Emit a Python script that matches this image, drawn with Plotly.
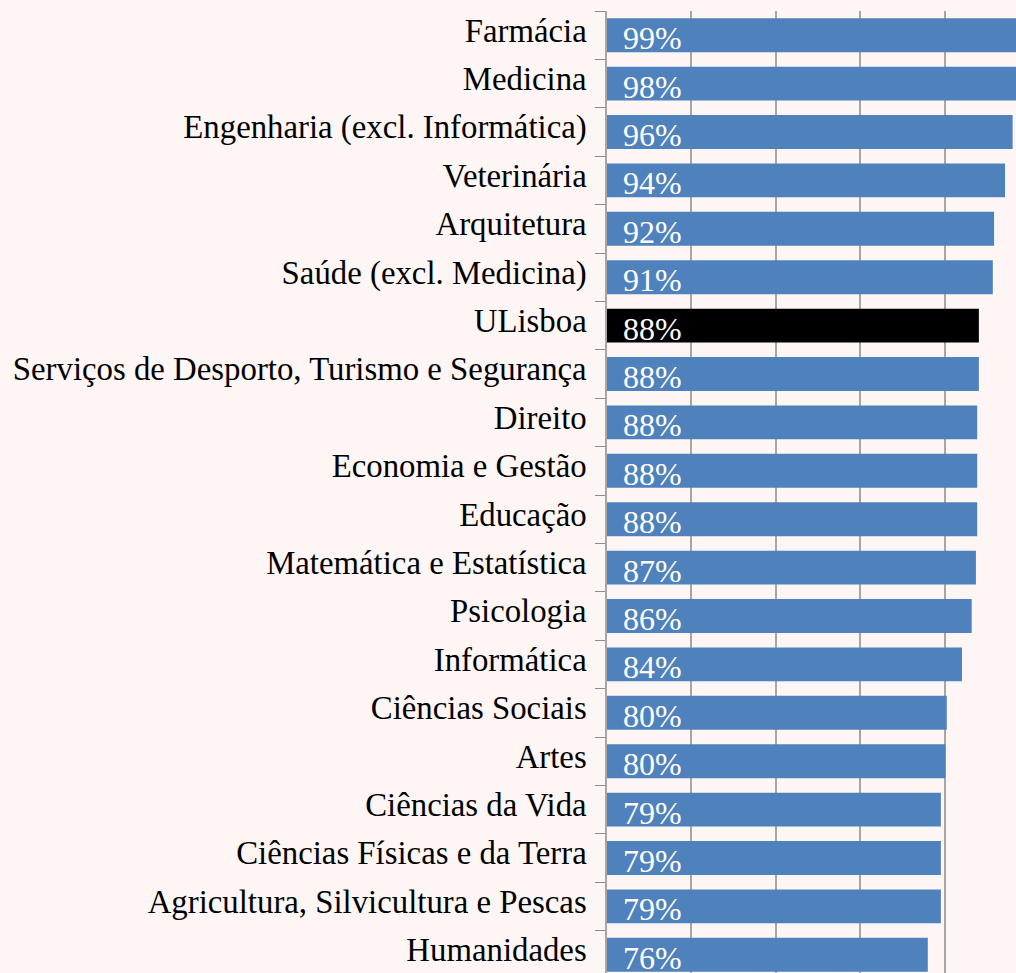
import plotly.graph_objects as go

categories = [
    "Farmácia", "Medicina", "Engenharia (excl. Informática)", "Veterinária",
    "Arquitetura", "Saúde (excl. Medicina)", "ULisboa",
    "Serviços de Desporto, Turismo e Segurança", "Direito", "Economia e Gestão",
    "Educação", "Matemática e Estatística", "Psicologia", "Informática",
    "Ciências Sociais", "Artes", "Ciências da Vida", "Ciências Físicas e da Terra",
    "Agricultura, Silvicultura e Pescas", "Humanidades",
]
values = [98.7, 97.8, 96.1, 94.3, 91.7, 91.4, 88.1, 88.1, 87.7, 87.7,
          87.7, 87.4, 86.4, 84.1, 80.5, 80.2, 79.1, 79.1, 79.1, 76.0]
value_labels = ["99%", "98%", "96%", "94%", "92%", "91%", "88%", "88%", "88%", "88%",
                "88%", "87%", "86%", "84%", "80%", "80%", "79%", "79%", "79%", "76%"]
highlight = "ULisboa"

BLUE = "#4f81bd"
BG = "#fef6f4"
SERIF = "Liberation Serif, Times New Roman, serif"

colors = ["#000000" if c == highlight else BLUE for c in categories]

fig = go.Figure()
fig.add_trace(go.Bar(
    y=categories, x=values, orientation="h",
    marker=dict(color=colors, line=dict(width=0)),
    hoverinfo="skip",
))

for c, lab in zip(categories, value_labels):
    fig.add_annotation(
        x=0, y=c, xref="x", yref="y", text=lab, showarrow=False,
        xanchor="left", yanchor="middle", xshift=14, yshift=-3,
        font=dict(family=SERIF, size=32, color="white"),
    )

W, H = 1016, 973
top = 11
pitch = 48.4
plot_h = H - top
rows_visible = plot_h / pitch

fig.update_layout(
    width=W, height=H,
    margin=dict(l=607, r=0, t=top, b=0, pad=0),
    paper_bgcolor=BG, plot_bgcolor=BG,
    bargap=0.3,
    showlegend=False,
    xaxis=dict(
        range=[0, (W - 607) / 4.221], dtick=20, tick0=0,
        showgrid=True, gridcolor="#aaa5a5", gridwidth=1.5,
        showticklabels=False, zeroline=False, showline=False,
        fixedrange=True,
    ),
    yaxis=dict(
        type="category",
        range=[-0.5 + rows_visible, -0.5],
        showline=True, linecolor="#aaa5a5", linewidth=1.5,
        ticks="outside", tickson="boundaries", ticklen=10,
        tickcolor="#8c8c8c", tickwidth=1,
        ticklabelstandoff=12, ticklabelshift=5,
        tickfont=dict(family=SERIF, size=32.8, color="black"),
        showgrid=False, automargin=False, fixedrange=True,
    ),
)

fig.write_html(
    "out.html",
    config={"displayModeBar": False},
    post_script=(
        "document.documentElement.style.margin='0';"
        "document.body.style.margin='0';"
        "document.body.style.overflow='hidden';"
        "document.body.style.background='" + BG + "';"
    ),
)
